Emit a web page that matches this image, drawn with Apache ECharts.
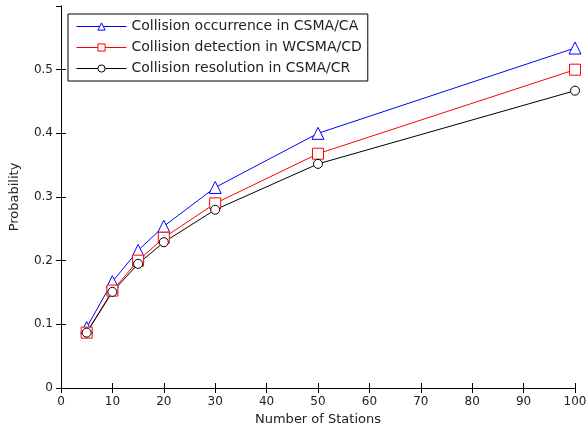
<!DOCTYPE html>
<html><head><meta charset="utf-8">
<script src="https://cdn.jsdelivr.net/npm/echarts@6/dist/echarts.min.js"></script>
<style>html,body{margin:0;padding:0;background:#fff}#c{width:587px;height:430px}</style>
</head><body><div id="c"></div>
<script>
const stations = [5, 10, 15, 20, 30, 50, 100];
const csmaCA = [0.095, 0.167, 0.216, 0.254, 0.315, 0.400, 0.534];
const wcsmaCD = [0.087, 0.153, 0.200, 0.236, 0.290, 0.368, 0.500];
const csmaCR = [0.087, 0.151, 0.195, 0.229, 0.280, 0.352, 0.467];
const names = ['Collision occurrence in CSMA/CA', 'Collision detection in WCSMA/CD', 'Collision resolution in CSMA/CR'];

const font = 'DejaVu Sans, sans-serif';
const chart = echarts.init(document.getElementById('c'));
function pairs(v){ return stations.map((x,i)=>[x, v[i]]); }
function ser(name, data, color, symbol, size){
  return {name, type:'line', data: pairs(data), symbol, symbolSize: size,
    lineStyle:{color, width:1}, itemStyle:{color:'#fff', borderColor:color, borderWidth:1},
    emphasis:{disabled:true}, animation:false, z: 3};
}
const axisLine = {show:true, lineStyle:{color:'#000', width:1}};
const tick = {inside:true, length:5, lineStyle:{color:'#000', width:1}};
chart.setOption({
  animation:false,
  grid:{left:61, right:12, top:6, bottom:42, show:false, containLabel:false, outerBoundsMode:'none'},
  xAxis:[{type:'value', min:0, max:100, interval:10, axisLine, axisTick:tick, splitLine:{show:false},
    axisLabel:{color:'#222', fontFamily:font, fontSize:12, margin:8},
    name:'Number of Stations', nameLocation:'middle', nameGap:25, nameTextStyle:{color:'#222', fontFamily:font, fontSize:13}},
    {type:'value', position:'top', min:0, max:100, interval:10, axisLine, axisTick:tick, axisLabel:{show:false}, splitLine:{show:false}}],
  yAxis:[{type:'value', min:0, max:0.6, interval:0.1, axisLine, axisTick:tick, splitLine:{show:false},
    axisLabel:{color:'#222', fontFamily:font, fontSize:12, margin:8, showMaxLabel:false, formatter:v=>String(Math.round(v*10)/10)},
    name:'Probability', nameLocation:'middle', nameGap:40, nameTextStyle:{color:'#222', fontFamily:font, fontSize:13}},
    {type:'value', position:'right', min:0, max:0.6, interval:0.1, axisLine, axisTick:tick, axisLabel:{show:false}, splitLine:{show:false}}],
  legend:{orient:'vertical', left:68, top:14, width:298, backgroundColor:'#fff',
    borderColor:'#000', borderWidth:1, padding:[5.5,6,5.5,8], itemWidth:50, itemHeight:9, itemGap:7,
    lineStyle:{width:1}, itemStyle:{borderWidth:1},
    textStyle:{color:'#222', fontFamily:font, fontSize:14, lineHeight:14}, selectedMode:false,
    data:names},
  series:[
    ser(names[0], csmaCA, '#0000ff', 'triangle', 12),
    ser(names[1], wcsmaCD, '#ff0000', 'rect', 11),
    ser(names[2], csmaCR, '#000000', 'circle', 9)
  ]
});
</script></body></html>
